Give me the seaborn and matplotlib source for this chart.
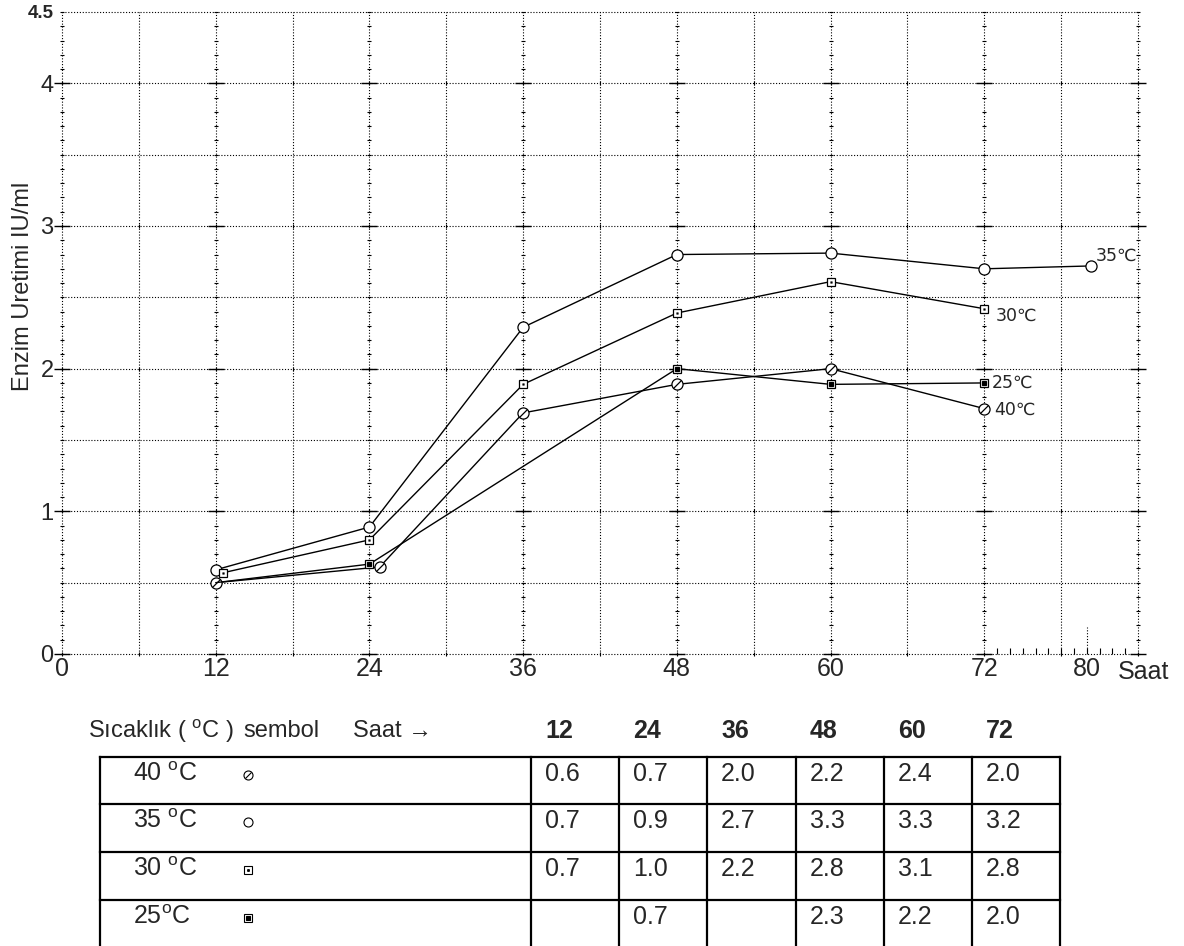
import numpy as np
import pandas as pd
import matplotlib
matplotlib.use("Agg")
import matplotlib.pyplot as plt
from matplotlib.markers import MarkerStyle
from matplotlib.transforms import Affine2D
import seaborn as sns

# Enzyme production (IU/ml) against incubation time (h) at each temperature
hours_40 = [12, 24.8, 36, 48, 60, 72]
prod_40 = [0.50, 0.61, 1.69, 1.89, 2.00, 1.72]
hours_35 = [12, 24, 36, 48, 60, 72, 80.3]
prod_35 = [0.59, 0.89, 2.29, 2.80, 2.81, 2.70, 2.72]
hours_30 = [12.6, 24, 36, 48, 60, 72]
prod_30 = [0.57, 0.80, 1.89, 2.39, 2.61, 2.42]
hours_25 = [12, 24, 48, 60, 72]
prod_25 = [0.50, 0.63, 2.00, 1.89, 1.90]

curve_labels = ["40℃", "35℃", "30℃", "25℃"]

x_tick_values = [0, 12, 24, 36, 48, 60, 72, 80]
y_tick_values = [0, 1, 2, 3, 4, 4.5]
y_tick_labels = ["0", "1", "2", "3", "4", "4.5"]

# Summary table under the chart
table_hours = ["12", "24", "36", "48", "60", "72"]
table_temps = ["40 $^{\\mathrm{o}}$C", "35 $^{\\mathrm{o}}$C",
               "30 $^{\\mathrm{o}}$C", "25$^{\\mathrm{o}}$C"]
table_40 = ["0.6", "0.7", "2.0", "2.2", "2.4", "2.0"]
table_35 = ["0.7", "0.9", "2.7", "3.3", "3.3", "3.2"]
table_30 = ["0.7", "1.0", "2.2", "2.8", "3.1", "2.8"]
table_25 = ["", "0.7", "", "2.3", "2.2", "2.0"]

sns.set_style("white")
plt.rcParams["font.family"] = ["Liberation Sans", "DejaVu Sans"]
plt.rcParams["mathtext.fontset"] = "custom"
plt.rcParams["mathtext.rm"] = "Liberation Sans"
plt.rcParams["mathtext.it"] = "Liberation Sans:italic"
plt.rcParams["mathtext.bf"] = "Liberation Sans:bold"

fig = plt.figure(figsize=(11.84, 9.46), dpi=100)
ax = fig.add_axes([62 / 1184, 1 - 654 / 946, 1076 / 1184, 642 / 946])

XMAX, YMAX = 84, 4.5
ax.set_xlim(0, XMAX)
ax.set_ylim(0, YMAX)
for s in ax.spines.values():
    s.set_visible(False)

dot = (0, (1, 1.6))
# dotted grid, including the frame
ax.vlines(np.arange(0, XMAX + 1, 6), 0, YMAX, colors="black",
          linestyles=dot, linewidth=0.8, clip_on=False, zorder=1)
ax.hlines(np.arange(0, YMAX + 0.01, 0.5), 0, XMAX, colors="black",
          linestyles=dot, linewidth=0.8, clip_on=False, zorder=1)

# scale marks on every 12 h line
fine_y = np.round(np.arange(0, YMAX + 0.001, 0.1), 2)
whole_y = np.arange(0, 5, 1)
for xv in np.arange(0, XMAX + 1, 12):
    ax.plot(np.full(len(fine_y), xv), fine_y, ls="none", marker="_", ms=3.5,
            mew=0.8, color="black", clip_on=False, zorder=2)
    ax.plot(np.full(len(whole_y), xv), whole_y, ls="none", marker="_", ms=12,
            mew=1.0, color="black", clip_on=False, zorder=2)
six_x = np.arange(0, XMAX + 1, 6)
for yv in whole_y:
    ax.plot(six_x, np.full(len(six_x), yv), ls="none", marker="|", ms=3,
            mew=0.8, color="black", clip_on=False, zorder=2)
hour_x = np.arange(73, XMAX, 1)
ax.plot(hour_x, np.zeros(len(hour_x)), ls="none", marker=2, ms=4, mew=0.8,
        color="black", clip_on=False, zorder=2)
ax.vlines([80], 0, 0.19, colors="black", linestyles=dot, linewidth=0.8, zorder=2)

slash = MarkerStyle("|", transform=Affine2D().rotate_deg(-45))
base_kw = dict(color="black", linewidth=1.0, estimator=None, errorbar=None,
               sort=False, legend=False, mec="black", mew=0.9)


def frame(x, y):
    return pd.DataFrame({"hour": x, "prod": y})


d40, d35, d30, d25 = (frame(hours_40, prod_40), frame(hours_35, prod_35),
                      frame(hours_30, prod_30), frame(hours_25, prod_25))

# 40 °C: open circles with a slash
sns.lineplot(data=d40, x="hour", y="prod", ax=ax, marker="o", ms=8,
             mfc="white", zorder=3, **base_kw)
sns.lineplot(data=d40, x="hour", y="prod", ax=ax, marker=slash, ms=8,
             linestyle="none", zorder=3.1, **base_kw)
# 25 °C: squares with a filled centre (first reading has no symbol)
sns.lineplot(data=d25, x="hour", y="prod", ax=ax, marker="s", ms=6.3,
             mfc="white", markevery=slice(1, None), zorder=3.2, **base_kw)
sns.lineplot(data=d25, x="hour", y="prod", ax=ax, marker="s", ms=2.6,
             mfc="black", linestyle="none", markevery=slice(1, None),
             zorder=3.3, **base_kw)
# 35 °C: open circles
sns.lineplot(data=d35, x="hour", y="prod", ax=ax, marker="o", ms=8,
             mfc="white", zorder=3.4, **base_kw)
# 30 °C: squares with a centre dot
sns.lineplot(data=d30, x="hour", y="prod", ax=ax, marker="s", ms=6.3,
             mfc="white", zorder=3.5, **base_kw)
dot_kw = {**base_kw, "mew": 0.3}
sns.lineplot(data=d30, x="hour", y="prod", ax=ax, marker="s", ms=1.2,
             mfc="black", linestyle="none", zorder=3.6, **dot_kw)

# curve labels beside the last points
label_offsets = [(10, -1), (5, 10), (11, -7), (7, 0)]
for lab, d, off in zip(curve_labels, [d40, d35, d30, d25], label_offsets):
    ax.annotate(lab, (d["hour"].iloc[-1], d["prod"].iloc[-1]), xytext=off,
                textcoords="offset pixels", ha="left", va="center",
                fontsize=12.5, family=["DejaVu Sans"], zorder=5)

ax.set_xticks(x_tick_values)
ax.set_xticklabels([str(v) for v in x_tick_values])
ax.set_yticks(y_tick_values)
ax.set_yticklabels(y_tick_labels)
ax.tick_params(axis="x", length=0, pad=2, labelsize=18)
ax.tick_params(axis="y", length=0, pad=6, labelsize=17)
top_lab = ax.get_yticklabels()[-1]
top_lab.set_fontweight("bold")
top_lab.set_fontsize(13.5)
ax.set_xlabel("")
ax.set_ylabel("Enzim Uretimi IU/ml", fontsize=17)
ax.yaxis.set_label_coords(-0.026, 0.573)
ax.text(82.4, -0.126, "Saat", fontsize=18, ha="left", va="center", clip_on=False)

# table drawn in pixel units below the chart
tab = fig.add_axes([0, 0, 1, 240 / 946])
tab.set_xlim(0, 1184)
tab.set_ylim(946, 706)
tab.axis("off")

col_edges = [100, 531, 619, 707, 796, 884, 972, 1060]
row_edges = [757, 804, 852, 900]
for yv in row_edges:
    tab.plot([col_edges[0], col_edges[-1]], [yv, yv], color="black", lw=1.6,
             solid_capstyle="projecting", clip_on=False)
for xv in col_edges:
    tab.plot([xv, xv], [row_edges[0], 946], color="black", lw=1.6,
             solid_capstyle="projecting", clip_on=False)

fs = 18
head_y = 731
tab.text(88, head_y, "Sıcaklık ( $^{\\mathrm{o}}$C )", fontsize=17, va="center")
tab.text(243, head_y, "sembol", fontsize=17, va="center")
tab.text(353, head_y, "Saat →", fontsize=17, va="center")
for left, h in zip(col_edges[1:-1], table_hours):
    tab.text(left + 14, head_y, h, fontsize=fs, fontweight="bold", va="center")

row_values = [table_40, table_35, table_30, table_25]
sym_x = 248
for i, (temp, vals) in enumerate(zip(table_temps, row_values)):
    yc = row_edges[i] + 17
    tab.text(133, yc, temp, fontsize=fs, va="center")
    for left, v in zip(col_edges[1:-1], vals):
        tab.text(left + 14, yc, v, fontsize=fs, va="center")

sym_kw = dict(color="black", mec="black", mew=0.8, ls="none", clip_on=False)
sym_y = [row_edges[i] + 18 for i in range(4)]
tab.plot([sym_x], [sym_y[0]], marker="o", ms=6.5, mfc="white", **sym_kw)
tab.plot([sym_x], [sym_y[0]], marker=slash, ms=6.5, **sym_kw)
tab.plot([sym_x], [sym_y[1]], marker="o", ms=6.5, mfc="white", **sym_kw)
tab.plot([sym_x], [sym_y[2]], marker="s", ms=6, mfc="white", **sym_kw)
tab.plot([sym_x], [sym_y[2]], marker="s", ms=1.2, mfc="black", **sym_kw)
tab.plot([sym_x], [sym_y[3]], marker="s", ms=6, mfc="white", **sym_kw)
tab.plot([sym_x], [sym_y[3]], marker="s", ms=2.6, mfc="black", **sym_kw)

fig.savefig("out.png", dpi=100)
